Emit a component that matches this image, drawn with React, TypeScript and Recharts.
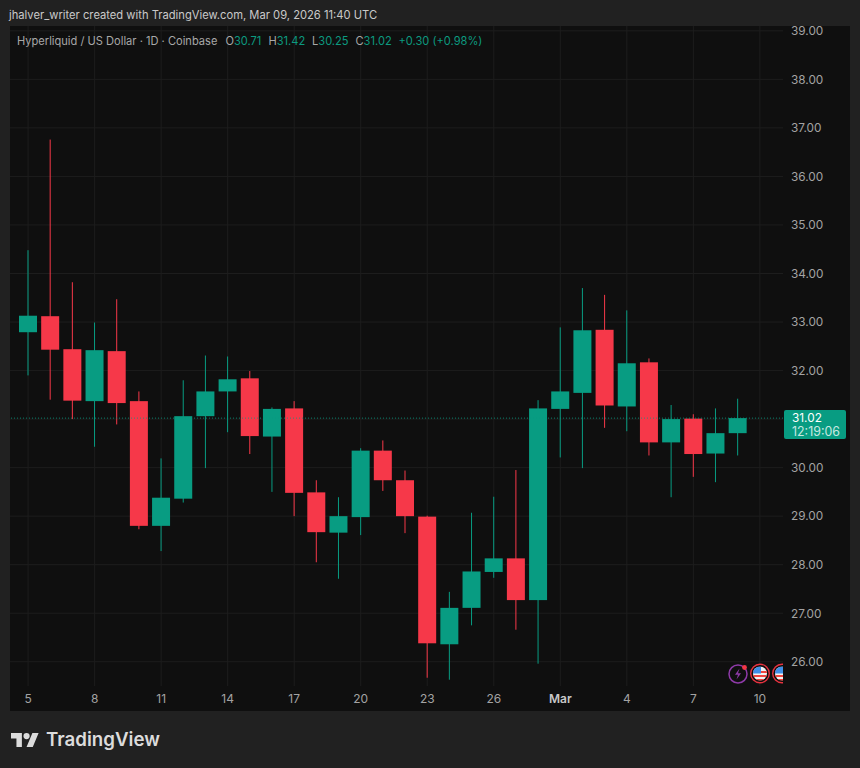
import React from "react";
import { Bar, CartesianGrid, ComposedChart, ReferenceLine, XAxis, YAxis } from "recharts";

const dates = [
  "Feb 5", "Feb 6", "Feb 7", "Feb 8", "Feb 9", "Feb 10", "Feb 11", "Feb 12", "Feb 13", "Feb 14", "Feb 15",
  "Feb 16", "Feb 17", "Feb 18", "Feb 19", "Feb 20", "Feb 21", "Feb 22", "Feb 23", "Feb 24", "Feb 25", "Feb 26",
  "Feb 27", "Feb 28", "Mar 1", "Mar 2", "Mar 3", "Mar 4", "Mar 5", "Mar 6", "Mar 7", "Mar 8", "Mar 9", "Mar 10",
];
const opens = [
  32.79, 33.12, 32.44, 31.37, 32.4, 31.37, 28.8, 29.36, 31.06, 31.57, 31.84, 30.64, 31.22, 29.49, 28.66, 28.98, 30.35,
  29.74, 28.99, 26.36, 27.11, 27.85, 28.13, 27.27, 31.21, 31.54, 32.84, 31.26, 32.17, 30.52, 31.01, 30.29, 30.71, null,
];
const highs = [
  34.48, 36.76, 33.82, 32.99, 33.47, 31.57, 30.19, 31.8, 32.31, 32.29, 31.99, 31.24, 31.37, 29.74, 29.39, 30.4, 30.56,
  29.94, 29.01, 27.44, 29.07, 29.4, 29.95, 31.39, 32.89, 33.7, 33.56, 33.24, 32.25, 31.29, 31.1, 31.22, 31.42, null,
];
const lows = [
  31.9, 31.4, 31.0, 30.43, 30.89, 28.73, 28.28, 29.28, 29.99, 30.73, 30.28, 29.5, 29.0, 28.05, 27.71, 28.61, 29.52,
  28.65, 25.67, 25.63, 26.75, 27.73, 26.66, 25.96, 30.21, 29.99, 30.82, 30.75, 30.25, 29.39, 29.81, 29.7, 30.25, null,
];
const closes = [
  33.13, 32.43, 31.38, 32.42, 31.33, 28.8, 29.38, 31.06, 31.57, 31.82, 30.65, 31.21, 29.48, 28.67, 29.0, 30.35, 29.74,
  29.0, 26.38, 27.11, 27.86, 28.13, 27.27, 31.22, 31.57, 32.83, 31.28, 32.15, 30.52, 31.0, 30.28, 30.71, 31.02, null,
];
const dateTicks = ["Feb 5", "Feb 8", "Feb 11", "Feb 14", "Feb 17", "Feb 20", "Feb 23", "Feb 26", "Mar 1", "Mar 4", "Mar 7", "Mar 10"];
const priceTicks = [26, 27, 28, 29, 30, 31, 32, 33, 34, 35, 36, 37, 38, 39];
const lastPrice = 31.02;
const countdown = "12:19:06";

const rows = dates.map((date, i) => ({
  date,
  open: opens[i],
  close: closes[i],
  high: highs[i],
  low: lows[i],
  range: highs[i] === null ? null : [lows[i], highs[i]],
}));

const UP = "#089c82";
const DOWN = "#f63849";
const FONT = "Inter, 'Noto Sans', sans-serif";
const BODY_WIDTH = 18;

function Candle(props: any) {
  const { x, y, width, height, payload } = props;
  if (payload.high === null || payload.high === undefined) return null;
  const perUnit = height / (payload.high - payload.low);
  const color = payload.close >= payload.open ? UP : DOWN;
  const top = y + (payload.high - Math.max(payload.open, payload.close)) * perUnit;
  const bottom = y + (payload.high - Math.min(payload.open, payload.close)) * perUnit;
  const cx = x + width / 2;
  return (
    <g>
      <rect x={cx - 0.5} y={y} width={1} height={height} fill={color} />
      <rect x={cx - BODY_WIDTH / 2} y={top} width={BODY_WIDTH} height={bottom - top} fill={color} />
    </g>
  );
}

function DateTick(props: any) {
  const { x, y, payload } = props;
  const [month, day] = payload.value.split(" ");
  const isMonthStart = day === "1";
  return (
    <text
      x={x}
      y={y}
      dy={9}
      textAnchor="middle"
      fontFamily={FONT}
      fontSize={12}
      fontWeight={isMonthStart ? 600 : 400}
      fill={isMonthStart ? "#c8c8c8" : "#a3a3a3"}
    >
      {isMonthStart ? month : day}
    </text>
  );
}

// the price tag sits on top of the nearest axis label, so that label is left out
function PriceTick(props: any) {
  const { x, y, payload } = props;
  if (Math.abs(payload.value - lastPrice) < 0.25) return null;
  return (
    <text x={x} y={y} dy={4.3} fontFamily={FONT} fontSize={11.8} fill="#a3a3a3">
      {payload.value.toFixed(2)}
    </text>
  );
}

function PriceTag(props: any) {
  const { viewBox } = props;
  const left = viewBox.x + viewBox.width + 1;
  const mid = viewBox.y + 6.5;
  return (
    <g fontFamily={FONT}>
      <rect x={left} y={mid - 14.5} width={62} height={29} rx={2} fill={UP} />
      <text x={left + 8} y={mid - 2.5} fontSize={11.8} fill="#ffffff">
        {lastPrice.toFixed(2)}
      </text>
      <text x={left + 8} y={mid + 11} fontSize={12.4} fill="#c6e8e0">
        {countdown}
      </text>
    </g>
  );
}

function EventIcons() {
  return (
    <svg width={860} height={768} style={{ position: "absolute", left: 0, top: 0, pointerEvents: "none" }}>
      <defs>
        <clipPath id="paneClip">
          <rect x={10} y={26} width={773} height={685} />
        </clipPath>
        <clipPath id="flag1">
          <circle cx={760} cy={673.5} r={7} />
        </clipPath>
        <clipPath id="flag2">
          <circle cx={782} cy={673.5} r={7} />
        </clipPath>
      </defs>
      <circle cx={738} cy={674} r={9} fill="none" stroke="#8e3aa8" strokeWidth={1.5} />
      <path d="M739.5 668.5l-4.5 6.2h3l-1.5 4.8 4.5-6.2h-3z" fill="#8e3aa8" />
      <circle cx={744.5} cy={667.5} r={2.4} fill="#f23645" />
      <g clipPath="url(#paneClip)">
        {[760, 782].map((cx, i) => (
          <g key={cx}>
            <circle cx={cx} cy={673.5} r={9.3} fill="#0f0f0f" stroke="#e8323f" strokeWidth={1.4} />
            <g clipPath={`url(#flag${i + 1})`}>
              <rect x={cx - 7} y={666.5} width={14} height={14} fill="#f2f2f2" />
              <rect x={cx - 7} y={671} width={14} height={2} fill="#f0453f" />
              <rect x={cx - 7} y={675} width={14} height={2} fill="#f0453f" />
              <rect x={cx - 7} y={679} width={14} height={2} fill="#f0453f" />
              <rect x={cx - 7} y={666.5} width={8} height={7} fill="#3f8fe8" />
            </g>
          </g>
        ))}
      </g>
    </svg>
  );
}

function Header() {
  const label = { position: "absolute", top: 33.5, fontSize: 11.1, lineHeight: "14px", whiteSpace: "nowrap" } as const;
  const parts: [number, string, string][] = [
    [225.5, "O", "30.71"],
    [268.5, "H", "31.42"],
    [312, "L", "30.25"],
    [355.5, "C", "31.02"],
  ];
  return (
    <>
      <div style={{ ...label, left: 9, top: 8, fontSize: 11.2, color: "#c9c9c9" }}>
        jhalver_writer created with TradingView.com, Mar 09, 2026 11:40 UTC
      </div>
      <div style={{ ...label, left: 17, color: "#a8a8a8" }}>Hyperliquid / US Dollar · 1D · Coinbase</div>
      {parts.map(([left, key, value]) => (
        <div key={key} style={{ ...label, left, color: "#a8a8a8" }}>
          {key}
          <span style={{ color: "#0c9a80" }}>{value}</span>
        </div>
      ))}
      <div style={{ ...label, left: 398.5, color: "#0c9a80" }}>+0.30 (+0.98%)</div>
    </>
  );
}

function Brand() {
  return (
    <>
      <svg width={28} height={14} viewBox="0 4 36 18" style={{ position: "absolute", left: 11, top: 733 }}>
        <path d="M14 22H7V11H0V4h14v18zM28 22h-8l7.5-18h8L28 22z" fill="#dcdcdc" />
        <circle cx={20} cy={8} r={4} fill="#dcdcdc" />
      </svg>
      <div style={{ position: "absolute", left: 46, top: 728, fontSize: 18.7, lineHeight: "24px", fontWeight: 600, color: "#dcdcdc" }}>
        TradingView
      </div>
    </>
  );
}

export default function App() {
  return (
    <div style={{ position: "absolute", left: 0, top: 0, width: 860, height: 768, background: "#212121", fontFamily: FONT, overflow: "hidden" }}>
      <div style={{ position: "absolute", left: 10, top: 26, width: 840, height: 685, background: "#0f0f0f" }} />
      <div style={{ position: "absolute", left: 0, top: 0 }}>
        <ComposedChart width={860} height={768} data={rows} margin={{ top: 26, right: 10, bottom: 57, left: 10 }}>
          <CartesianGrid stroke="#1d1d1d" strokeWidth={1} syncWithTicks />
          <XAxis
            dataKey="date"
            ticks={dateTicks}
            interval={0}
            height={25}
            padding={{ left: 7, right: 12 }}
            axisLine={false}
            tickLine={false}
            tick={<DateTick />}
          />
          <YAxis
            orientation="right"
            domain={[25.5, 39.1]}
            ticks={priceTicks}
            interval={0}
            width={67}
            axisLine={false}
            tickLine={false}
            tick={<PriceTick />}
          />
          <Bar dataKey="range" barSize={BODY_WIDTH} shape={<Candle />} isAnimationActive={false} />
          <ReferenceLine y={lastPrice} stroke={UP} strokeOpacity={0.8} strokeDasharray="1 2" label={(p: any) => <PriceTag {...p} />} />
        </ComposedChart>
      </div>
      <EventIcons />
      <Header />
      <Brand />
    </div>
  );
}
